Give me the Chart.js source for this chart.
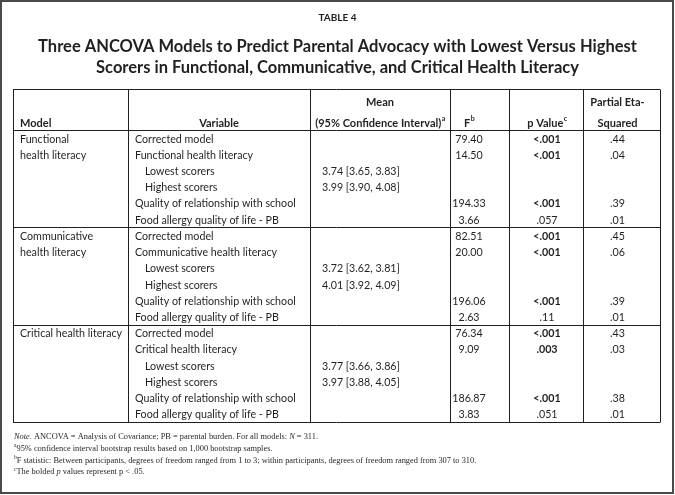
<!DOCTYPE html>
<html>
<head>
<meta charset="utf-8">
<script src="https://cdn.jsdelivr.net/npm/chart.js@4"></script>
<style>
  html, body { margin: 0; padding: 0; background: #fff; }
  canvas { display: block; }
</style>
</head>
<body>
<canvas id="tableChart" width="675" height="495"></canvas>
<script>
// table content
const tableNumber = "TABLE 4";
const titleLines = [
    "Three ANCOVA Models to Predict Parental Advocacy with Lowest Versus Highest",
    "Scorers in Functional, Communicative, and Critical Health Literacy"
];
const models = [
    ["Functional", "health literacy"],
    ["Communicative", "health literacy"],
    ["Critical health literacy"]
];
const rowLabels = [
    "Corrected model", "Functional health literacy", "Lowest scorers", "Highest scorers",
    "Quality of relationship with school", "Food allergy quality of life - PB",
    "Corrected model", "Communicative health literacy", "Lowest scorers", "Highest scorers",
    "Quality of relationship with school", "Food allergy quality of life - PB",
    "Corrected model", "Critical health literacy", "Lowest scorers", "Highest scorers",
    "Quality of relationship with school", "Food allergy quality of life - PB"
];
const meanValues = [null, null, 3.74, 3.99, null, null, null, null, 3.72, 4.01, null, null, null, null, 3.77, 3.97, null, null];
const ciLower    = [null, null, 3.65, 3.90, null, null, null, null, 3.62, 3.92, null, null, null, null, 3.66, 3.88, null, null];
const ciUpper    = [null, null, 3.83, 4.08, null, null, null, null, 3.81, 4.09, null, null, null, null, 3.86, 4.05, null, null];
const fValues    = [79.40, 14.50, null, null, 194.33, 3.66, 82.51, 20.00, null, null, 196.06, 2.63, 76.34, 9.09, null, null, 186.87, 3.83];
const pValues    = ["<.001", "<.001", null, null, "<.001", ".057", "<.001", "<.001", null, null, "<.001", ".11", "<.001", ".003", null, null, "<.001", ".051"];
const etaValues  = [.44, .04, null, null, .39, .01, .45, .06, null, null, .39, .01, .43, .03, null, null, .38, .01];

// notes: [text, kind] pieces, kind is italic or superscript
const notes = [
    [["Note.", "i"], [" ANCOVA = Analysis of Covariance; PB = parental burden. For all models: "], ["N", "i"], [" = 311."]],
    [["a", "sup"], ["95% confidence interval bootstrap results based on 1,000 bootstrap samples."]],
    [["b", "sup"], ["F statistic: Between participants, degrees of freedom ranged from 1 to 3; within participants, degrees of freedom ranged from 307 to 310."]],
    [["c", "sup"], ["The bolded "], ["p", "i"], [" values represent p < .05."]]
];

// layout
const ROWS_PER_MODEL = 6;
const COLUMN_EDGES = [0, 115, 297, 437, 496, 570, 647];
const TEXT = '#231f20';
const SANS = 'Lato, "Open Sans", sans-serif';
const SERIF = '"Liberation Serif", "DejaVu Serif", serif';

function fmt2(v) {
    return v.toFixed(2);
}
function fmtEta(v) {
    return v.toFixed(2).replace(/^0/, '');
}
function isSignificant(p) {
    return p.charAt(0) === '<' || parseFloat(p) < 0.05;
}

function supText(ctx, text, sup, x, y, align, font, supFont) {
    ctx.font = font;
    const w = ctx.measureText(text).width;
    ctx.font = supFont;
    const sw = ctx.measureText(sup).width;
    let start = x;
    if (align === 'center') start = x - (w + sw) / 2;
    ctx.textAlign = 'left';
    ctx.font = font;
    ctx.fillText(text, start, y);
    ctx.font = supFont;
    ctx.fillText(sup, start + w + 0.5, y - 4);
}

const tablePlugin = {
    id: 'tablePlugin',
    afterDraw(chart) {
        const ctx = chart.ctx;
        const x = chart.scales.x;
        const y = chart.scales.y;
        const area = chart.chartArea;
        const colX = COLUMN_EDGES.map(v => x.getPixelForValue(v));
        const band = y.getPixelForValue(1) - y.getPixelForValue(0);
        const tableTop = area.top - 41;
        const rowY = i => y.getPixelForValue(i) + 1;

        ctx.save();
        ctx.fillStyle = TEXT;
        ctx.textBaseline = 'middle';

        // outer frame
        ctx.strokeStyle = '#4a4a4a';
        ctx.lineWidth = 2;
        ctx.strokeRect(1, 1, chart.width - 3, chart.height - 3);

        // titles
        ctx.textAlign = 'center';
        const cx = chart.width / 2;
        ctx.font = 'bold 10px ' + SANS;
        ctx.fillText(tableNumber, cx, 18);
        ctx.font = 'bold 16.5px ' + SANS;
        titleLines.forEach((t, i) => ctx.fillText(t, cx, 47 + i * 21));

        // grid lines
        ctx.strokeStyle = TEXT;
        ctx.lineWidth = 1;
        ctx.beginPath();
        const hLines = [tableTop, area.top, area.bottom];
        for (let g = 1; g < models.length; g++) {
            hLines.push(y.getPixelForValue(g * ROWS_PER_MODEL) - band / 2);
        }
        hLines.forEach(h => {
            const yy = Math.round(h) + 0.5;
            ctx.moveTo(colX[0], yy);
            ctx.lineTo(colX[colX.length - 1], yy);
        });
        colX.forEach(c => {
            const xx = Math.round(c) + 0.5;
            ctx.moveTo(xx, Math.round(tableTop) + 0.5);
            ctx.lineTo(xx, Math.round(area.bottom) + 0.5);
        });
        ctx.stroke();

        // header
        const hFont = 'bold 11px ' + SANS;
        const hSup = 'bold 7px ' + SANS;
        const h1 = tableTop + 13;
        const h2 = area.top - 7;
        const fCenter = colX[3] + 19;
        const pCenter = (colX[4] + colX[5]) / 2 + 1;
        const etaCenter = (colX[5] + colX[6]) / 2 - 4;
        const meanCenter = (colX[2] + colX[3]) / 2;
        ctx.font = hFont;
        ctx.textAlign = 'left';
        ctx.fillText('Model', colX[0] + 7, h2);
        ctx.textAlign = 'center';
        ctx.fillText('Variable', (colX[1] + colX[2]) / 2, h2);
        ctx.fillText('Mean', meanCenter, h1);
        supText(ctx, '(95% Confidence Interval)', 'a', meanCenter, h2, 'center', hFont, hSup);
        supText(ctx, 'F', 'b', fCenter, h2, 'center', hFont, hSup);
        supText(ctx, 'p Value', 'c', pCenter, h2, 'center', hFont, hSup);
        ctx.font = hFont;
        ctx.textAlign = 'center';
        ctx.fillText('Partial Eta-', etaCenter, h1);
        ctx.fillText('Squared', etaCenter, h2);

        // body
        const bFont = '10.7px ' + SANS;
        const bBold = 'bold 10.7px ' + SANS;
        models.forEach((lines, g) => {
            ctx.font = bFont;
            ctx.textAlign = 'left';
            lines.forEach((t, i) => {
                ctx.fillText(t, colX[0] + 7, rowY(g * ROWS_PER_MODEL + i));
            });
        });
        rowLabels.forEach((label, i) => {
            const yy = rowY(i);
            ctx.font = bFont;
            ctx.textAlign = 'left';
            const indent = meanValues[i] !== null ? 10 : 0;
            ctx.fillText(label, colX[1] + 7 + indent, yy);
            if (meanValues[i] !== null) {
                ctx.fillText(fmt2(meanValues[i]) + ' [' + fmt2(ciLower[i]) + ', ' + fmt2(ciUpper[i]) + ']', colX[2] + 12, yy);
            }
            ctx.textAlign = 'center';
            if (fValues[i] !== null) {
                ctx.fillText(fmt2(fValues[i]), fCenter, yy);
            }
            if (pValues[i] !== null) {
                ctx.font = isSignificant(pValues[i]) ? bBold : bFont;
                ctx.fillText(pValues[i], pCenter, yy);
                ctx.font = bFont;
            }
            if (etaValues[i] !== null) {
                ctx.fillText(fmtEta(etaValues[i]), etaCenter, yy);
            }
        });

        // notes
        ctx.textAlign = 'left';
        const nSize = 8.4;
        notes.forEach((parts, n) => {
            let nx = colX[0] + 1;
            const ny = area.bottom + 15 + n * 11.7;
            parts.forEach(([t, kind]) => {
                if (kind === 'sup') {
                    ctx.font = '5.5px ' + SERIF;
                    ctx.fillText(t, nx, ny - 3);
                } else {
                    ctx.font = (kind === 'i' ? 'italic ' : '') + nSize + 'px ' + SERIF;
                    ctx.fillText(t, nx, ny);
                }
                nx += ctx.measureText(t).width;
            });
        });
        ctx.restore();
    }
};

document.addEventListener('DOMContentLoaded', function() {
    const ctx = document.getElementById('tableChart').getContext('2d');
    const tableChart = new Chart(ctx, {
        type: 'scatter',
        data: {
            labels: rowLabels,
            datasets: [],
        },
        options: {
            responsive: false,
            animation: false,
            devicePixelRatio: 1,
            layout: {
                padding: { left: 13, right: 15, top: 130, bottom: 73 },
            },
            scales: {
                x: {
                    type: 'linear',
                    min: COLUMN_EDGES[0],
                    max: COLUMN_EDGES[COLUMN_EDGES.length - 1],
                    display: false,
                },
                y: {
                    type: 'category',
                    labels: rowLabels.map((l, i) => i + ' ' + l),
                    offset: true,
                    display: false,
                },
            },
            plugins: {
                legend: { display: false },
                tooltip: { enabled: false },
            },
        },
        plugins: [tablePlugin],
    });
});
</script>
</body>
</html>
